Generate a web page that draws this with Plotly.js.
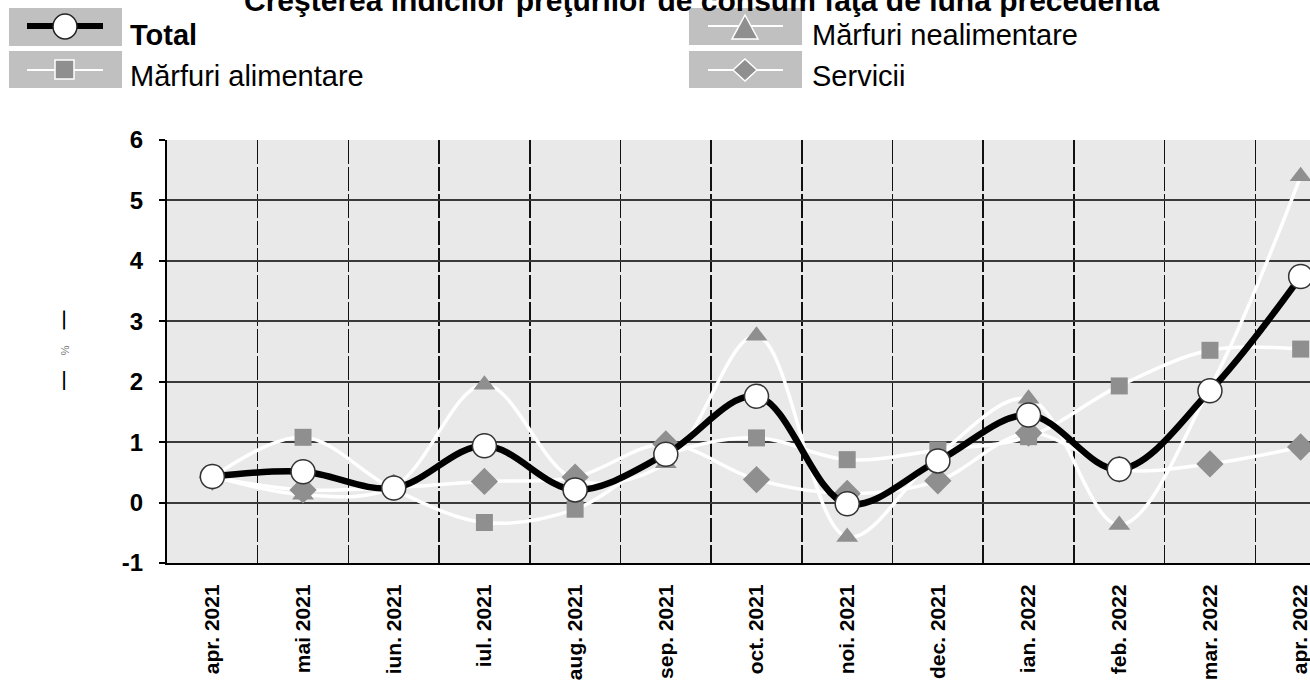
<!DOCTYPE html>
<html>
<head>
<meta charset="utf-8">
<script src="https://cdn.plot.ly/plotly-3.0.1.min.js"></script>
<style>
html,body{margin:0;padding:0;overflow:hidden;background:#fff;}
#chart{width:1350px;height:686px;}
</style>
</head>
<body>
<div id="chart"></div>
<script>
// ---- data ----
const categories = ["apr. 2021","mai 2021","iun. 2021","iul. 2021","aug. 2021","sep. 2021","oct. 2021","noi. 2021","dec. 2021","ian. 2022","feb. 2022","mar. 2022","apr. 2022"];
const total        = [0.43, 0.51, 0.24, 0.94, 0.21, 0.80, 1.76, -0.02, 0.69, 1.45, 0.55, 1.85, 3.74];
const alimentare   = [0.42, 1.08, 0.22, -0.33, -0.11, 0.78, 1.07, 0.71, 0.87, 1.09, 1.93, 2.52, 2.54];
const nealimentare = [0.44, 0.13, 0.26, 1.95, 0.38, 0.65, 2.76, -0.57, 0.78, 1.72, -0.37, 1.90, 5.40];
const servicii     = [0.42, 0.21, 0.25, 0.35, 0.42, 0.97, 0.38, 0.15, 0.36, 1.15, 0.55, 0.64, 0.92];
const seriesNames  = ["Total", "Mărfuri alimentare", "Mărfuri nealimentare", "Servicii"];
const yTicks = [-1, 0, 1, 2, 3, 4, 5, 6];
const titleText = "Creşterea indicilor preţurilor de consum faţă de luna precedentă";

// ---- geometry helpers ----
const W = 1350, H = 686;
const px = x => x / W;
const py = y => 1 - y / H;
const FONT = "Liberation Sans, Arial, sans-serif";
const GRAYM = "#8f8f8f";

function greyTrace(y, name, symbol, size) {
  return {
    x: categories, y: y, name: name, type: "scatter", mode: "lines+markers",
    line: {color: "#ffffff", width: 3.5, shape: "spline", smoothing: 1},
    marker: {symbol: symbol, size: size, color: GRAYM, line: {width: 0}},
    cliponaxis: false, showlegend: false, hoverinfo: "skip"
  };
}

const traces = [
  greyTrace(nealimentare, seriesNames[2], "triangle-up", 19),
  greyTrace(alimentare, seriesNames[1], "square", 17),
  greyTrace(servicii, seriesNames[3], "diamond", 21),
  {
    x: categories, y: total, name: seriesNames[0], type: "scatter", mode: "lines+markers",
    line: {color: "#000000", width: 6.5, shape: "spline", smoothing: 1},
    marker: {symbol: "circle", size: 24, color: "#ffffff", line: {color: "#333333", width: 1.5}},
    cliponaxis: false, showlegend: false, hoverinfo: "skip"
  }
];

// ---- legend drawn as shapes ----
const shapes = [];
const annotations = [];
function box(x0, y0, x1, y1) {
  shapes.push({type: "rect", xref: "paper", yref: "paper",
    x0: px(x0), x1: px(x1), y0: py(y1), y1: py(y0),
    fillcolor: "#c0c0c0", line: {width: 0}, layer: "above"});
}
function hline(x0, x1, y, color, w) {
  shapes.push({type: "line", xref: "paper", yref: "paper",
    x0: px(x0), x1: px(x1), y0: py(y), y1: py(y), line: {color: color, width: w}, layer: "above"});
}
function pathShape(pts, fill, lc, lw) {
  let d = "M" + pts.map(p => px(p[0]).toFixed(5) + "," + py(p[1]).toFixed(5)).join("L") + "Z";
  shapes.push({type: "path", xref: "paper", yref: "paper", path: d,
    fillcolor: fill, line: {color: lc, width: lw}, layer: "above"});
}
function legendText(x, y, txt, bold) {
  annotations.push({xref: "paper", yref: "paper", x: px(x), y: py(y), xanchor: "left", yanchor: "middle",
    text: bold ? "<b>" + txt + "</b>" : txt, showarrow: false,
    font: {family: FONT, size: 29, color: "#000"}});
}
// Total
box(9, 8, 122, 46);
hline(27, 103, 26, "#000000", 6);
shapes.push({type: "circle", xref: "paper", yref: "paper",
  x0: px(53), x1: px(77), y0: py(39), y1: py(14), fillcolor: "#ffffff",
  line: {color: "#222", width: 1.5}, layer: "above"});
legendText(128, 35, seriesNames[0], true);
// Alimentare
box(9, 51, 122, 88);
hline(27, 103, 70, "#ffffff", 2);
pathShape([[55,60],[74,60],[74,79],[55,79]], GRAYM, "#ffffff", 1.5);
legendText(128, 76, seriesNames[1], false);
// Nealimentare
box(689, 8, 802, 45);
hline(708, 783, 26, "#ffffff", 2);
pathShape([[745,15],[758,39],[732,39]], GRAYM, "#ffffff", 1.5);
legendText(810, 35, seriesNames[2], false);
// Servicii
box(689, 51, 802, 88);
hline(708, 783, 70, "#ffffff", 2);
pathShape([[745,59],[757,70],[745,81],[733,70]], GRAYM, "#ffffff", 1.5);
legendText(810, 76, seriesNames[3], false);

// Title (cut at the top like in the reference)
annotations.push({xref: "paper", yref: "paper", x: px(702), y: py(19), xanchor: "center", yanchor: "bottom",
  text: "<b>" + titleText + "</b>", showarrow: false,
  font: {family: FONT, size: 30, color: "#000"}});

// Y axis title
annotations.push({xref: "paper", yref: "paper", x: px(63), y: py(351), xanchor: "center", yanchor: "middle",
  textangle: -90, showarrow: false,
  text: "<b>—</b>&nbsp;&nbsp;&nbsp;<span style='font-size:11px;color:#777'>%</span>&nbsp;&nbsp;&nbsp;<b>—</b>",
  font: {family: FONT, size: 19, color: "#000"}});

// plot background
shapes.unshift({type: "rect", xref: "x domain", yref: "y domain", x0: 0, x1: 1, y0: 0, y1: 1,
  fillcolor: "#e9e9e9", line: {width: 0}, layer: "below"});

const layout = {
  width: W, height: H,
  margin: {l: 0, r: 0, t: 0, b: 0, autoexpand: false},
  paper_bgcolor: "#ffffff",
  plot_bgcolor: "rgba(0,0,0,0)",
  showlegend: false,
  xaxis: {
    type: "category", domain: [px(167), px(1346)], range: [-0.5, 12.5],
    tickson: "boundaries", showgrid: true, gridcolor: "#111111", gridwidth: 1.5, griddash: "24px,3px",
    showline: true, linecolor: "#000", linewidth: 2, mirror: false,
    ticks: "", tickangle: -90, ticklabelstandoff: 11,
    tickfont: {family: FONT, size: 21, color: "#000", weight: "bold"},
    automargin: false, fixedrange: true
  },
  yaxis: {
    domain: [py(563), py(140)], range: [-1, 6],
    tickvals: yTicks, ticktext: yTicks.map(String),
    showgrid: true, gridcolor: "#3a3a3a", gridwidth: 2, zeroline: false,
    showline: true, linecolor: "#000", linewidth: 2,
    ticks: "outside", ticklen: 6, tickwidth: 2, tickcolor: "#000", ticklabelstandoff: 11,
    tickfont: {family: FONT, size: 24, color: "#000", weight: "bold"},
    automargin: false, fixedrange: true
  },
  shapes: shapes,
  annotations: annotations
};

Plotly.newPlot("chart", traces, layout, {displayModeBar: false, staticPlot: true});
</script>
</body>
</html>
